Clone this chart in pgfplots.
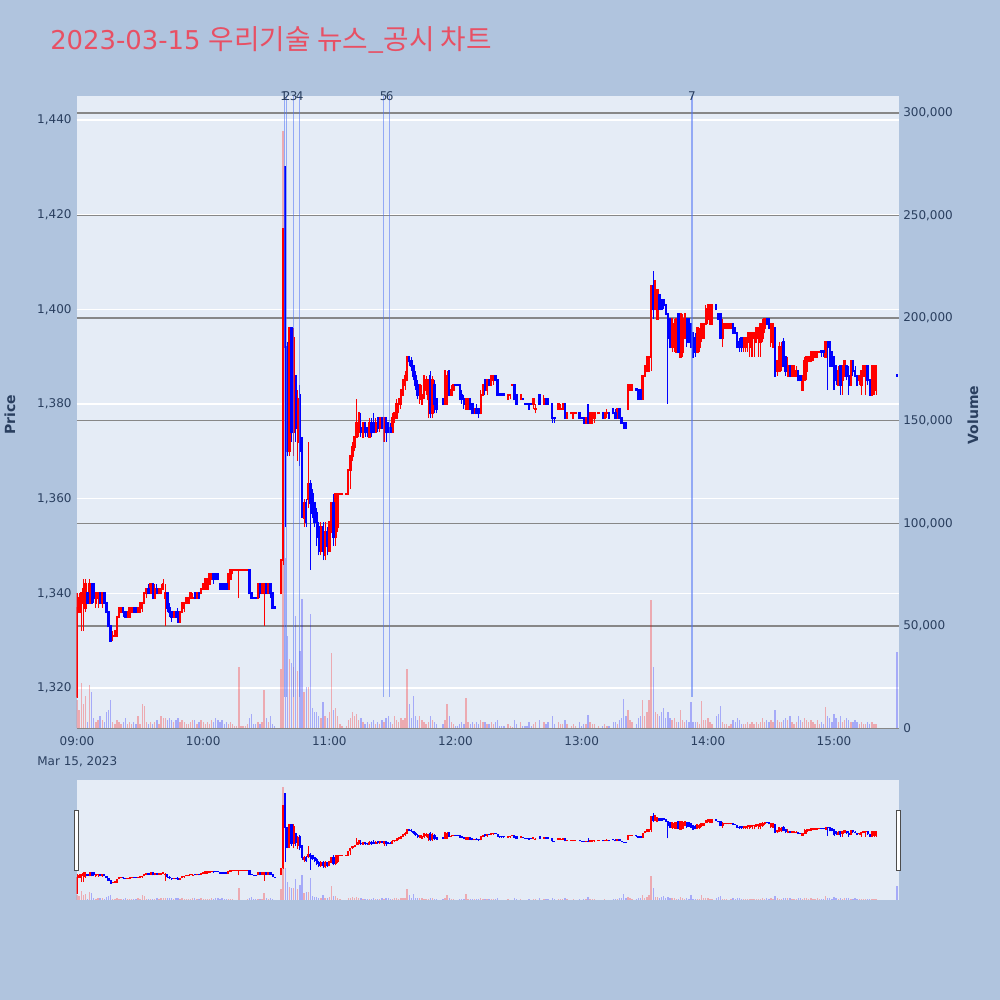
\documentclass[border=0pt]{standalone}
\usepackage{fontspec}
\setmainfont{DejaVu Sans}
\newfontfamily\kr{Noto Sans CJK KR}
\usepackage{pgfplots}
\usepackage{pgfplotstable}
\pgfplotsset{compat=1.18}
\definecolor{paperbg}{HTML}{B0C4DE}
\definecolor{plotbg}{HTML}{E5ECF6}
\definecolor{txt}{HTML}{2A3F5F}
\definecolor{titlec}{RGB}{232,80,100}
\definecolor{vgrid}{RGB}{135,135,135}
\definecolor{mline}{RGB}{80,115,245}

\pgfplotstableread{
t o h l c v
0 1318 1340 1318 1337 14000
1 1336 1340 1336 1339 9000
2 1336 1340 1332 1340 22000
3 1338 1343 1332 1341 12000
4 1337 1343 1336 1342 16000
5 1340 1340 1338 1338 3000
6 1338 1343 1338 1342 21000
7 1342 1342 1338 1338 18000
8 1342 1342 1338 1339 5000
9 1338 1340 1337 1340 3000
10 1339 1340 1337 1340 4000
11 1340 1340 1338 1338 6000
12 1338 1340 1337 1340 4000
13 1340 1340 1338 1338 3000
14 1338 1338 1336 1336 8000
15 1336 1336 1333 1333 9000
16 1333 1333 1330 1330 14000
17 1331 1332 1330 1331 3000
18 1331 1332 1331 1332 2000
19 1331 1335 1331 1335 4000
20 1335 1337 1335 1337 3000
21 1336 1337 1336 1337 2000
22 1337 1337 1335 1336 3000
23 1336 1336 1335 1335 5000
24 1335 1336 1335 1336 2000
25 1335 1337 1335 1337 3000
26 1336 1337 1336 1337 2000
27 1337 1337 1336 1336 3000
28 1337 1337 1336 1336 2000
29 1336 1337 1336 1337 6000
30 1336 1338 1336 1338 2000
31 1337 1338 1336 1338 12000
32 1338 1340 1338 1340 11000
33 1340 1341 1339 1341 3000
34 1341 1342 1340 1340 2000
35 1340 1342 1340 1342 3000
36 1342 1342 1339 1339 2000
37 1339 1342 1339 1341 3000
38 1341 1342 1340 1340 4000
39 1340 1341 1340 1341 2000
40 1340 1342 1340 1341 6000
41 1341 1343 1341 1342 5000
42 1339 1342 1333 1340 5000
43 1340 1340 1336 1337 4000
44 1337 1338 1335 1336 5000
45 1336 1336 1334 1335 4000
46 1335 1336 1335 1336 3000
47 1336 1336 1335 1335 4000
48 1336 1337 1334 1334 5000
49 1334 1336 1334 1336 3000
50 1336 1338 1336 1338 4000
51 1337 1338 1336 1338 3000
52 1338 1339 1338 1339 2000
53 1338 1339 1338 1339 2000
54 1339 1340 1339 1340 3000
55 1339 1340 1339 1339 4000
56 1340 1340 1339 1339 4000
57 1339 1340 1339 1340 2000
58 1340 1340 1339 1339 3000
59 1340 1341 1340 1341 4000
60 1341 1342 1341 1342 3000
61 1341 1343 1341 1343 2000
62 1341 1343 1341 1343 3000
63 1342 1344 1342 1344 2000
64 1343 1344 1343 1344 4000
65 1344 1344 1342 1343 3000
66 1344 1344 1343 1343 5000
67 1344 1344 1343 1343 4000
68 1342 1342 1341 1341 3000
69 1342 1342 1341 1341 4000
70 1342 1342 1341 1341 2000
71 1342 1342 1341 1341 3000
72 1341 1344 1341 1344 2000
73 1343 1345 1343 1345 3000
74 1345 1345 1344 1345 2000
75 1345 1345 1345 1345 1000
76 1345 1345 1345 1345 1000
77 1345 1345 1339 1345 30000
78 1345 1345 1345 1345 1000
79 1345 1345 1345 1345 1000
80 1345 1345 1345 1345 1000
81 1345 1345 1345 1345 2000
82 1345 1345 1340 1340 5000
83 1340 1340 1339 1339 7000
84 1339.1 1339.1 1339 1339 2000
85 1339.1 1339.1 1339 1339 2000
86 1339 1342 1339 1342 3000
87 1342 1342 1339 1340 2000
88 1340 1342 1340 1342 3000
89 1340 1342 1333 1342 19000
90 1342 1342 1340 1340 5000
91 1340 1342 1340 1342 3000
92 1342 1342 1339 1340 6000
93 1340 1340 1337 1337 2000
94 1337.1 1337.1 1337 1337 1000
97 1340 1347 1340 1347 29000
98 1347 1417 1346 1417 291000
99 1430 1430 1354 1392 83000
100 1392 1393 1369 1370 45000
101 1370 1396 1369 1396 34000
102 1396 1396 1372 1374 32000
103 1374 1396 1369 1394 30000
104 1386 1386 1372 1375 55000
105 1372 1383 1368 1381 28000
106 1382 1384 1367 1370 38000
107 1372 1373 1356 1358 63000
108 1356 1360 1354 1359 18000
109 1359 1360 1354 1355 20000
110 1360 1372 1358 1363 20000
111 1363 1364 1345 1359 56000
112 1361 1362 1356 1357 10000
113 1359 1359 1354 1355 8000
114 1357 1358 1350 1352 8000
115 1354 1355 1348 1349 6000
116 1349 1355 1348 1354 5000
117 1354 1355 1347 1349 13000
118 1348 1355 1347 1353 6000
119 1353 1354 1348 1350 5000
120 1349 1355 1349 1355 8000
121 1353 1359 1353 1359 36600
122 1359 1361 1350 1352 9000
123 1352 1361 1350 1361 10000
124 1354 1361 1353 1361 6000
125 1361 1361 1361 1361 2000
126 1361 1361 1361 1361 1000
128 1361 1361 1361 1361 1000
129 1361 1366 1361 1366 4000
130 1366 1369 1362 1369 5000
131 1369 1372 1368 1371 8000
132 1371 1373 1370 1373 6000
133 1373 1381 1373 1376 7000
134 1374 1378 1373 1378 4000
135 1375 1378 1373 1374 5000
136 1373 1376 1373 1376 3000
137 1376 1376 1373 1374 2000
138 1375 1375 1373 1374 3000
139 1373 1377 1373 1376 2000
140 1376 1377 1373 1374 3000
141 1376 1378 1374 1374 4000
142 1374 1377 1374 1376 2000
143 1377 1377 1374 1375 3000
144 1375 1377 1374 1377 2000
145 1377 1377 1375 1375 4000
146 1374 1377 1372 1377 3000
147 1377 1377 1372 1374 5000
148 1376 1376 1374 1374 6000
149 1375 1376 1374 1374 3000
150 1374 1378 1374 1377 2000
151 1377 1378 1376 1378 6000
152 1377 1381 1377 1380 4000
153 1380 1381 1378 1381 3000
154 1380 1383 1379 1383 5000
155 1382 1385 1382 1385 4000
156 1384 1387 1383 1386 5000
157 1385 1390 1385 1390 29000
158 1390 1390 1388 1389 12000
159 1389 1390 1387 1388 5000
160 1388 1388 1385 1386 15600
161 1386 1387 1383 1384 6000
162 1384 1385 1381 1382 4000
163 1381 1384 1380 1384 6000
164 1380 1384 1380 1382 4000
165 1382 1386 1381 1386 3000
166 1383 1386 1382 1385 2000
167 1381 1385 1377 1385 3000
168 1386 1387 1377 1378 6000
169 1378 1386 1377 1385 4000
170 1384 1385 1378 1380 3000
171 1381 1381 1378 1379 2000
174 1381 1381 1380 1380 2000
175 1380 1387 1380 1387 4000
176 1380 1387 1380 1386 12000
177 1387 1387 1382 1382 6000
178 1382 1384 1382 1383 3000
179 1383 1384 1383 1384 2000
180 1384.1 1384.1 1384 1384 1000
181 1384.1 1384.1 1384 1384 1000
182 1384 1384 1381 1381 2000
183 1382 1383 1380 1381 3000
184 1381 1382 1379 1380 2000
185 1379 1381 1379 1381 15000
186 1379 1381 1379 1381 3000
187 1381 1381 1379 1379 2000
188 1380 1380 1378 1378 3000
189 1378 1379 1378 1379 2000
190 1379 1380 1378 1378 3000
191 1379 1379 1377 1378 2000
192 1378 1383 1378 1382 4000
193 1382 1384 1382 1384 3000
194 1385 1385 1382 1383 3000
195 1383 1385 1382 1385 2000
196 1385 1385 1384 1384 2000
197 1384 1386 1384 1386 3000
198 1385 1386 1384 1386 2000
199 1386 1386 1385 1385 3000
200 1385 1385 1382 1382 4000
201 1382.1 1382.1 1382 1382 1000
202 1382.1 1382.1 1382 1382 1000
203 1382.1 1382.1 1382 1382 1000
205 1381 1382 1381 1382 2000
206 1382 1382 1381 1382 1000
207 1384 1384 1384 1384 500
208 1384 1384 1381 1381 4000
209 1382 1382 1380 1380 2000
211 1381 1382 1381 1382 3000
212 1381.1 1381.1 1381 1381 1000
213 1380.1 1380.1 1380 1380 1000
214 1380.1 1380.1 1380 1380 1000
215 1380 1380 1379 1379 3000
216 1380.1 1380.1 1380 1380 1000
217 1380 1381 1379 1381 2000
218 1379 1380 1378 1379 3000
220 1382 1382 1380 1380 4000
222 1380 1382 1380 1381 3000
223 1381 1381 1380 1380 2000
224 1381 1381 1380 1380 3000
226 1380 1380 1376 1377 6000
227 1377.1 1377.1 1376 1377 2000
229 1379 1380 1379 1380 3000
230 1379 1380 1379 1379 2000
231 1379 1380 1379 1380 2000
232 1380 1380 1377 1377 4000
233 1377 1378 1377 1378 2000
235 1378 1378 1378 1378 1000
236 1377 1378 1377 1378 2000
237 1378 1378 1378 1378 1000
239 1378 1378 1377 1377 3000
240 1377.1 1377.1 1377 1377 1000
241 1377 1377 1376 1376 2000
242 1376 1377 1376 1377 2000
243 1377 1380 1376 1376 6600
244 1376 1378 1376 1378 3000
245 1376 1378 1376 1378 2000
246 1377 1378 1376 1378 2000
248 1378 1378 1378 1378 1000
250 1378 1378 1377 1377 1000
251 1377 1378 1377 1378 2000
252 1378 1379 1377 1378 1000
253 1378 1378 1377 1377 1000
255 1379 1379 1378 1378 3000
256 1378 1379 1377 1377 3000
257 1377 1379 1377 1379 2000
258 1379 1379 1377 1377 4000
259 1377 1377 1376 1376 5000
260 1376 1376 1375 1375 14500
261 1376 1376 1375 1375 6000
262 1379 1384 1379 1384 8800
263 1383 1384 1383 1384 4000
264 1383 1384 1383 1384 3000
266 1383.1 1383.1 1383 1383 2000
267 1383 1383 1381 1381 5000
268 1383 1383 1381 1381 6000
269 1381 1386 1381 1386 13700
270 1386 1388 1386 1388 6000
271 1387 1390 1387 1390 8000
272 1387 1390 1387 1390 13700
273 1390 1405 1387 1405 62400
274 1405 1408 1398 1400 30000
275 1400 1406 1400 1406 8000
276 1398 1404 1398 1404 7000
277 1403 1403 1400 1400 6000
278 1402 1402 1400 1400 8000
279 1402 1402 1400 1401 10000
280 1401 1401 1399 1399 5000
281 1399 1399 1380 1394 8000
282 1398 1398 1392 1392 5000
283 1392 1398 1391 1398 4000
284 1392 1398 1391 1397 5000
285 1391 1398 1391 1398 3000
286 1399 1399 1391 1391 3000
287 1390 1399 1390 1399 8800
288 1391 1399 1390 1398 4000
289 1394 1399 1394 1399 3000
290 1398 1398 1392 1393 4000
291 1398 1398 1393 1393 3000
292 1397 1397 1392 1392 12800
293 1395 1395 1390 1390 3000
294 1394 1395 1390 1391 3000
295 1391 1396 1391 1396 3000
296 1392 1396 1391 1395 2000
297 1394 1397 1393 1397 13600
298 1394 1397 1394 1397 4000
299 1397 1401 1397 1400 4000
300 1398 1401 1397 1401 5000
301 1397 1401 1397 1401 3000
302 1397 1401 1397 1401 2000
304 1401 1401 1400 1400 6000
305 1399 1399 1398 1398 7000
306 1399 1399 1394 1394 11000
307 1394 1398 1392 1397 3000
308 1396 1397 1396 1397 2000
309 1396 1397 1396 1397 2000
310 1396 1397 1396 1397 1000
311 1396 1397 1396 1397 2000
312 1397 1397 1395 1395 4000
313 1396 1396 1395 1395 3000
314 1395 1395 1392 1392 5000
315 1393 1394 1391 1392 4000
316 1394 1394 1391 1392 2000
317 1392 1394 1391 1394 2000
318 1392 1394 1391 1394 2000
319 1393 1395 1391 1395 3000
320 1392 1395 1390 1395 2000
321 1393 1395 1390 1395 3000
322 1394 1395 1390 1395 2000
323 1393 1396 1393 1396 3000
324 1394 1396 1390 1396 2000
325 1393 1397 1390 1397 3000
326 1394 1398 1393 1397 5000
327 1396 1398 1395 1398 3000
328 1398 1398 1397 1397 4000
329 1398 1398 1396 1396 3000
330 1393 1397 1392 1397 4000
331 1392 1397 1392 1397 3000
332 1396 1396 1386 1386 9000
333 1387 1389 1386 1389 4000
334 1387 1393 1387 1392 3000
335 1388 1393 1387 1391 3000
336 1393 1394 1388 1388 4000
337 1390 1390 1386 1387 5000
338 1386 1390 1386 1388 4000
339 1388 1388 1386 1386 6000
340 1386 1388 1386 1388 3000
341 1386 1388 1386 1388 2000
342 1386 1388 1386 1387 3000
343 1387 1387 1385 1385 6000
344 1386 1386 1385 1385 4000
345 1383 1386 1383 1386 3000
346 1385 1390 1385 1389 5000
347 1387 1390 1385 1390 4000
348 1389 1390 1389 1390 3000
349 1389 1391 1389 1391 4000
350 1390 1391 1389 1391 3000
351 1390 1391 1390 1391 2000
352 1390 1391 1390 1391 4000
353 1391 1391 1391 1391 2000
354 1391.1 1391.1 1390 1391 3000
355 1391.1 1391.1 1390 1391 2000
356 1390 1393 1390 1393 10400
357 1393 1393 1383 1392 6000
358 1393 1393 1388 1388 5000
359 1391 1391 1388 1388 3000
360 1390 1390 1383 1384 7000
361 1388 1388 1384 1385 5000
362 1384 1388 1384 1387 3000
363 1388 1388 1382 1384 6000
364 1385 1388 1382 1388 3000
365 1386 1389 1386 1389 4000
366 1388 1388 1385 1386 5000
367 1386 1388 1382 1384 4000
368 1384 1389 1384 1389 3000
369 1389 1389 1386 1387 3000
370 1387 1388 1386 1386 4000
371 1386 1386 1384 1384 3000
372 1385 1386 1384 1386 2000
373 1384 1387 1382 1387 3000
374 1386 1388 1386 1388 2000
375 1387 1388 1382 1388 2000
376 1388 1388 1384 1385 3000
377 1385 1385 1382 1382 2000
378 1382 1388 1382 1388 3000
379 1383 1388 1382 1388 2000
380 1383 1388 1382 1388 2000
390 1386.1 1386.1 1386 1386 37200
}\data

\newcommand\pmin{1311.44}
\newcommand\pmax{1445.07}
\newcommand\vmax{308300}

\tikzset{
  tl/.style={font=\fontsize{9pt}{10pt}\selectfont, text=txt,
    /pgf/number format/fixed, /pgf/number format/precision=0,
    /pgf/number format/assume math mode=true,
    /pgf/number format/1000 sep={,}},
}
\pgfplotsset{
  common/.style={anchor=south west, scale only axis, width=616.875pt,
    xmin=-0.24, xmax=390.9, axis line style={draw=none},
    major tick style={draw=none}, minor tick style={draw=none},
    clip mode=individual},
  mainpos/.style={common, at={(57.375pt,203.625pt)}, height=474.375pt},
  slidepos/.style={common, at={(57.375pt,75pt)}, height=90pt,
    xtick=\empty, ytick=\empty},
}

\newcommand\candles[2]{%
  \addplot[red, line width=#1, quiver={u=0, v=\thisrow{h}-\thisrow{l}},
    restrict expr to domain={\thisrow{c}-\thisrow{o}}{0:10000}]
    table[x=t, y=l]{\data};
  \addplot[blue, line width=#1, quiver={u=0, v=\thisrow{h}-\thisrow{l}},
    restrict expr to domain={\thisrow{c}-\thisrow{o}}{-10000:-0.001}]
    table[x=t, y=l]{\data};
  \addplot[red, line width=#2, quiver={u=0, v=abs(\thisrow{c}-\thisrow{o})+0.42},
    restrict expr to domain={\thisrow{c}-\thisrow{o}}{0:10000}]
    table[x=t, y expr={min(\thisrow{o},\thisrow{c})-0.21}]{\data};
  \addplot[blue, line width=#2, quiver={u=0, v=abs(\thisrow{c}-\thisrow{o})+0.42},
    restrict expr to domain={\thisrow{c}-\thisrow{o}}{-10000:-0.001}]
    table[x=t, y expr={min(\thisrow{o},\thisrow{c})-0.21}]{\data};
}
\newcommand\volumes{%
  \addplot[ycomb, red, opacity=0.28, line width=1pt, mark=none,
    restrict expr to domain={\thisrow{c}-\thisrow{o}}{0:10000}]
    table[x=t, y=v]{\data};
  \addplot[ycomb, blue, opacity=0.28, line width=1pt, mark=none,
    restrict expr to domain={\thisrow{c}-\thisrow{o}}{-10000:-0.001}]
    table[x=t, y=v]{\data};
}

\begin{document}
\begin{tikzpicture}
\useasboundingbox (0,0) rectangle (750pt,750pt);
\fill[paperbg] (0,0) rectangle (750pt,750pt);

% price axis: background, white grid, left ticks, time ticks
\begin{axis}[mainpos, ymin=\pmin, ymax=\pmax,
  axis background/.style={fill=plotbg},
  ymajorgrids, grid style={white, line width=0.9pt},
  ytick={1320,1340,...,1440}, ytick pos=left,
  yticklabel style={tl, anchor=east, inner sep=0pt, xshift=-3.5pt},
  xtick={0,60,120,180,240,300,360}, xtick pos=bottom,
  xticklabels={09:00,10:00,11:00,12:00,13:00,14:00,15:00},
  xticklabel style={tl, anchor=north, inner sep=0pt, yshift=-6pt}]
\end{axis}

% volume axis: grey grid, bars, right ticks
\begin{axis}[mainpos, ymin=0, ymax=\vmax,
  ymajorgrids, grid style={vgrid, line width=1.1pt},
  ytick={0,50000,100000,150000,200000,250000,300000}, ytick pos=right, scaled y ticks=false,
  yticklabel style={tl, anchor=west, inner sep=0pt, xshift=3pt},
  xtick=\empty]
\volumes
\end{axis}

% price axis: candles, event lines
\begin{axis}[mainpos, ymin=\pmin, ymax=\pmax, xtick=\empty, ytick=\empty]
\candles{0.8pt}{1.8pt}
\foreach \ev in {98.7,99.5,103,105.9,145.9,148.7,292.4}{
  \edef\tmp{\noexpand\addplot[mline, opacity=0.55, line width=1pt] coordinates {(\ev,1318.2) (\ev,\pmax)};}
  \tmp
}
\node[tl, anchor=base, inner sep=0pt] at (axis cs:98.5,\pmax) [yshift=-3.5pt] {1};
\node[tl, anchor=base, inner sep=0pt] at (axis cs:99.7,\pmax) [yshift=-3.5pt] {2};
\node[tl, anchor=base, inner sep=0pt] at (axis cs:103,\pmax) [yshift=-3.5pt] {3};
\node[tl, anchor=base, inner sep=0pt] at (axis cs:105.9,\pmax) [yshift=-3.5pt] {4};
\node[tl, anchor=base, inner sep=0pt] at (axis cs:145.9,\pmax) [yshift=-3.5pt] {5};
\node[tl, anchor=base, inner sep=0pt] at (axis cs:148.7,\pmax) [yshift=-3.5pt] {6};
\node[tl, anchor=base, inner sep=0pt] at (axis cs:292.4,\pmax) [yshift=-3.5pt] {7};
\end{axis}

% range slider
\begin{axis}[slidepos, ymin=0, ymax=\vmax, axis background/.style={fill=plotbg}]
\volumes
\end{axis}
\begin{axis}[slidepos, ymin=\pmin, ymax=\pmax]
\candles{0.7pt}{1.6pt}
\end{axis}
\draw[fill=white, draw=black!70, line width=0.7pt] (56.1pt,97.5pt) rectangle (58.9pt,142.5pt);
\draw[fill=white, draw=black!70, line width=0.7pt] (672.4pt,97.5pt) rectangle (675.2pt,142.5pt);

% texts
\node[anchor=base west, inner sep=0pt, text=titlec] at (37.5pt,712.5pt)
  {\fontsize{19.4pt}{22pt}\selectfont 2023-03-15 {\kr\fontsize{20.8pt}{24pt}\selectfont 우리기술 뉴스\_공시 차트}};
\node[font=\fontsize{9pt}{10pt}\selectfont, text=txt, anchor=north, inner sep=0pt] at (58pt,182.5pt) {Mar 15, 2023};
\node[font=\fontsize{10.5pt}{12pt}\selectfont\bfseries, text=txt, rotate=90] at (7.5pt,438.75pt) {Price};
\node[font=\fontsize{10.5pt}{12pt}\selectfont\bfseries, text=txt, rotate=90] at (729.75pt,438.75pt) {Volume};
\end{tikzpicture}
\end{document}
